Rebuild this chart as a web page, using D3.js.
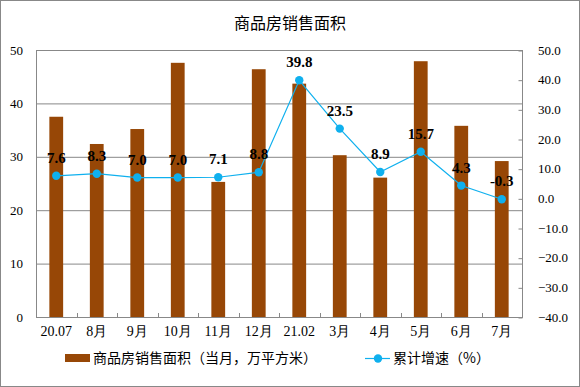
<!DOCTYPE html>
<html>
<head>
<meta charset="utf-8">
<script src="https://cdn.jsdelivr.net/npm/d3@7"></script>
<style>
  body { margin: 0; background: #fff; }
  svg { display: block; }
</style>
</head>
<body>
<svg class="combo-chart"></svg>
<script>
// chart data
const categories = ['20.07', '8月', '9月', '10月', '11月', '12月', '21.02', '3月', '4月', '5月', '6月', '7月'];
const salesArea = [37.5, 32.4, 35.2, 47.6, 25.3, 46.4, 43.7, 30.3, 26.1, 47.9, 35.8, 29.2];
const growthRate = [7.6, 8.3, 7.0, 7.0, 7.1, 8.8, 39.8, 23.5, 8.9, 15.7, 4.3, -0.3];
const leftTicks = [0, 10, 20, 30, 40, 50];
const rightTicks = [-40, -30, -20, -10, 0, 10, 20, 30, 40, 50];
const barName = '商品房销售面积（当月，万平方米）';
const lineName = '累计增速（%）';
const title = '商品房销售面积';

const svgWidth = 580, svgHeight = 387;
const margin = { top: 50, right: 58, bottom: 70, left: 36 };
const width = svgWidth - margin.left - margin.right;
const height = svgHeight - margin.top - margin.bottom;

const serif = '"Liberation Serif", "Times New Roman", serif';
const cjk = '"Noto Sans CJK SC", sans-serif';
const barColor = '#974706';
const lineColor = '#0fb0ee';
const gridColor = '#888';

const svg = d3.select('.combo-chart')
    .attr('width', svgWidth)
    .attr('height', svgHeight);

// outer frame
svg.append('rect')
    .attr('x', 0.5).attr('y', 0.5)
    .attr('width', svgWidth - 1).attr('height', svgHeight - 1)
    .attr('fill', '#fff')
    .attr('stroke', '#888');

svg.append('text')
    .attr('x', svgWidth / 2)
    .attr('y', 29)
    .attr('text-anchor', 'middle')
    .attr('font-family', cjk)
    .attr('font-size', 16)
    .text(title);

const g = svg.append('g')
    .attr('transform', 'translate(' + margin.left + ',' + margin.top + ')');

const x = d3.scaleBand()
    .domain(categories)
    .range([0, width])
    .paddingInner(0.66)
    .paddingOuter(0.33);

const yLeft = d3.scaleLinear().domain([0, 50]).range([height, 0]);
const yRight = d3.scaleLinear().domain([-40, 50]).range([height, 0]);

// gridlines
g.append('g')
    .selectAll('line')
    .data(leftTicks.slice(1))
    .join('line')
    .attr('x1', 0).attr('x2', width)
    .attr('y1', d => yLeft(d) + 0.5).attr('y2', d => yLeft(d) + 0.5)
    .attr('stroke', gridColor);

// plot border
g.append('rect')
    .attr('x', 0.5).attr('y', 0.5)
    .attr('width', width).attr('height', height)
    .attr('fill', 'none')
    .attr('stroke', gridColor);

// left axis
g.append('g')
    .call(d3.axisLeft(yLeft).tickValues(leftTicks).tickSize(0).tickPadding(13))
    .call(a => a.select('.domain').remove())
    .selectAll('text')
    .attr('font-family', serif)
    .attr('font-size', 13)
    .attr('fill', '#000');

// right axis, ticks pointing inward
g.append('g')
    .attr('transform', 'translate(' + width + ',0)')
    .call(d3.axisRight(yRight).tickValues(rightTicks).tickSize(-4).tickPadding(16).tickFormat(d3.format('.1f')))
    .call(a => a.select('.domain').remove())
    .call(a => a.selectAll('line').attr('stroke', gridColor).attr('transform', 'translate(0.5,0.5)'))
    .selectAll('text')
    .attr('font-family', serif)
    .attr('font-size', 13)
    .attr('fill', '#000');

// bottom ticks between categories
const step = x.step();
g.append('g')
    .selectAll('line')
    .data(d3.range(1, categories.length))
    .join('line')
    .attr('x1', d => Math.round(d * step) + 0.5).attr('x2', d => Math.round(d * step) + 0.5)
    .attr('y1', height).attr('y2', height - 4)
    .attr('stroke', gridColor);

g.append('g')
    .attr('transform', 'translate(0,' + height + ')')
    .call(d3.axisBottom(x).tickSize(0).tickPadding(9))
    .call(a => a.select('.domain').remove())
    .selectAll('text')
    .attr('font-family', serif)
    .attr('font-size', 14)
    .attr('fill', '#000');

// bars
g.append('g')
    .selectAll('rect')
    .data(salesArea)
    .join('rect')
    .attr('x', (d, i) => x(categories[i]))
    .attr('y', d => yLeft(d))
    .attr('width', x.bandwidth())
    .attr('height', d => height - yLeft(d))
    .attr('fill', barColor);

// growth line
const cx = i => x(categories[i]) + x.bandwidth() / 2;
const line = d3.line()
    .x((d, i) => cx(i))
    .y(d => yRight(d));

g.append('path')
    .datum(growthRate)
    .attr('fill', 'none')
    .attr('stroke', lineColor)
    .attr('stroke-width', 1.2)
    .attr('d', line);

g.append('g')
    .selectAll('circle')
    .data(growthRate)
    .join('circle')
    .attr('cx', (d, i) => cx(i))
    .attr('cy', d => yRight(d))
    .attr('r', 4.2)
    .attr('fill', lineColor);

g.append('g')
    .selectAll('text')
    .data(growthRate)
    .join('text')
    .attr('x', (d, i) => cx(i))
    .attr('y', d => yRight(d) - 13)
    .attr('text-anchor', 'middle')
    .attr('font-family', serif)
    .attr('font-size', 15)
    .attr('font-weight', 'bold')
    .text(d => d.toFixed(1));

// legend
const legend = svg.append('g').attr('transform', 'translate(0,358)');
legend.append('rect')
    .attr('x', 65).attr('y', -4)
    .attr('width', 25).attr('height', 8)
    .attr('fill', barColor);
legend.append('text')
    .attr('x', 93).attr('y', 5)
    .attr('font-family', cjk)
    .attr('font-size', 14)
    .text(barName);
legend.append('line')
    .attr('x1', 365).attr('x2', 390)
    .attr('y1', 0.5).attr('y2', 0.5)
    .attr('stroke', lineColor)
    .attr('stroke-width', 1.2);
legend.append('circle')
    .attr('cx', 378).attr('cy', 0.5)
    .attr('r', 4.2)
    .attr('fill', lineColor);
legend.append('text')
    .attr('x', 393).attr('y', 5)
    .attr('font-family', cjk)
    .attr('font-size', 14)
    .text(lineName);
</script>
</body>
</html>
